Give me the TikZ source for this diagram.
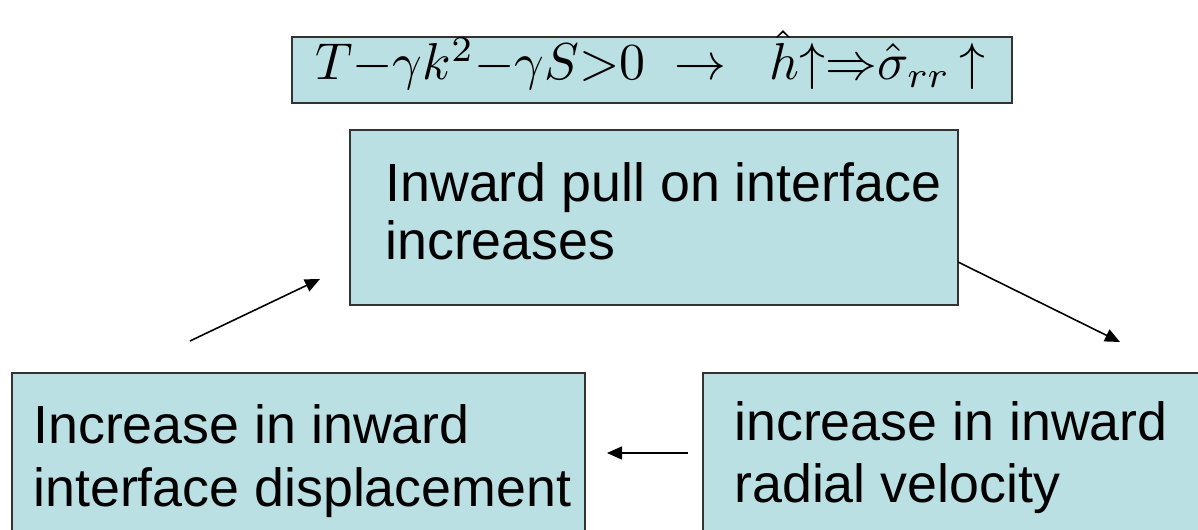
\documentclass[tikz,border=0pt]{standalone}
\usepackage{graphicx}
\usepackage{fontspec}
\setmainfont{Liberation Sans}
\usetikzlibrary{arrows.meta}
\definecolor{boxfill}{HTML}{BBE0E3}
\definecolor{boxline}{HTML}{333333}
\tikzset{
  box/.style={draw=boxline, line width=0.9pt, fill=boxfill},
  txt/.style={anchor=base west, inner sep=0pt, font=\fontsize{30.6}{34}\selectfont},
  conn/.style={line width=0.9pt, -{Triangle[length=0.3cm,width=0.26cm]}}
}
\begin{document}
\begin{tikzpicture}[x=0.02cm,y=-0.02cm]
\useasboundingbox (0,0) rectangle (1198,530);
\clip (0,0) rectangle (1198,530);
\fill[white] (0,0) rectangle (1198,530);
% boxes
\draw[box] (292,37) rectangle (1012,103);
\draw[box] (350,130) rectangle (958,305);
\coordinate (midE) at (958,262);
\draw[box] (12,373) rectangle (585,560);
\draw[box] (703,373) rectangle (1230,560);
% formula
\node[anchor=base, inner sep=0pt] (formula) at (650,80)
  {\resizebox{13.4cm}{!}{$T{-}\gamma k^{2}{-}\gamma S{>}0\;\rightarrow\;\;\hat{h}{\uparrow}{\Rightarrow}\hat{\sigma}_{rr}\,{\uparrow}$}};
% texts
\node[txt] (m1) at (385,202) {Inward pull on interface};
\node[txt] (m2) at (385,260) {increases};
\node[txt] (l1) at (33,443) {Increase in inward};
\node[txt] (l2) at (33,506) {interface displacement};
\node[txt] (r1) at (734,440) {increase in inward};
\node[txt] (r2) at (734,502) {radial velocity};
% connectors
\coordinate (a1s) at (190,341);
\coordinate (a1e) at (320,279);
\coordinate (a2e) at (1120,342);
\coordinate (a3s) at (688,453);
\coordinate (a3e) at (607,453);
\draw[conn] (a1s) -- (a1e);
\draw[conn] (midE) -- (a2e);
\draw[conn] (a3s) -- (a3e);
\end{tikzpicture}
\end{document}
